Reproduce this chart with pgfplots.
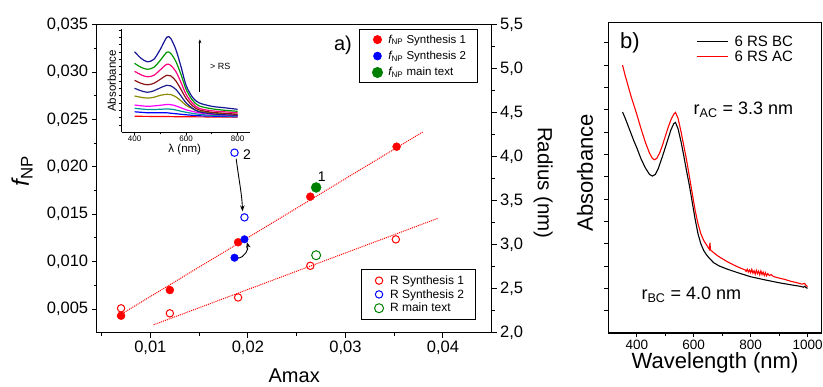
\documentclass[border=0pt]{standalone}
\usepackage{fontspec}
\setmainfont{Liberation Sans}
\usepackage{pgfplots}
\pgfplotsset{compat=1.18}
\usetikzlibrary{arrows.meta}
\definecolor{cnavy}{RGB}{20,20,150}
\definecolor{cgreen}{RGB}{0,150,0}
\definecolor{cpink}{RGB}{255,0,128}
\definecolor{cbrown}{RGB}{140,20,20}
\definecolor{cnavyb}{RGB}{30,30,140}
\definecolor{colive}{RGB}{140,140,0}
\definecolor{cmag}{RGB}{255,0,255}
\definecolor{cteal}{RGB}{0,150,150}
\definecolor{cblue}{RGB}{0,0,255}
\definecolor{cred}{RGB}{255,0,0}
\definecolor{dgreen}{RGB}{0,128,0}
\pgfplotsset{every axis/.append style={scale only axis,
  axis line style={line width=1.1pt},
  every tick/.style={black,line width=0.9pt},
  tick align=outside, major tick length=5pt, minor tick length=3pt,
  /pgf/number format/assume math mode=true},
  markleg/.style={legend image code/.code={\path (0pt,0pt) (17pt,0pt); \draw[mark repeat=2,mark phase=2,##1] plot coordinates {(0pt,0pt) (8.5pt,0pt) (17pt,0pt)};}}}
\begin{document}
\begin{tikzpicture}
\useasboundingbox (0pt,0pt) rectangle (823pt,387pt);
% ---------- panel a, left axis (f_NP) ----------
\begin{axis}[at={(96.7pt,54.3pt)}, anchor=south west, width=395pt, height=308.1pt,
  xmin=0.0045, xmax=0.045, ymin=0.0025, ymax=0.035,
  xtick={0.01,0.02,0.03,0.04}, minor xtick={0.005,0.015,0.025,0.035},
  ytick={0.005,0.01,0.015,0.02,0.025,0.03,0.035},
  minor ytick={0.0075,0.0125,0.0175,0.0225,0.0275,0.0325},
  xtick pos=bottom, ytick pos=left, scaled ticks=false,
  xticklabel style={/pgf/number format/.cd,fixed,fixed zerofill,precision=2,use comma},
  yticklabel style={/pgf/number format/.cd,fixed,fixed zerofill,precision=3,use comma},
  tick label style={font=\fontsize{16.5}{18}\selectfont},
  xlabel={Amax}, ylabel={{\itshape f}\textsubscript{NP}},
  xlabel style={at={(axis description cs:0.5,-0.1405)},anchor=center,font=\fontsize{20}{22}\selectfont},
  ylabel style={at={(axis description cs:-0.189,0.525)},anchor=center,font=\fontsize{24}{26}\selectfont},
  markleg,
  legend style={at={(0.664,0.986)},anchor=north west,draw=black,line width=1pt,
    font=\fontsize{11.5}{13}\selectfont,inner xsep=9pt,inner ysep=2pt,
    nodes={inner ysep=3.3pt}},
  legend cell align=left]
\addplot[cred,densely dotted,line width=1pt,forget plot] coordinates {(0.00659,0.00419) (0.03797,0.02370)};
\addplot[only marks,mark=*,mark size=4pt,cred,mark options={fill=cred,draw=cred}] coordinates {
 (0.0070,0.00429) (0.0120,0.00700) (0.0190,0.01204) (0.0264,0.01685) (0.03525,0.02212)};
\addlegendentry{{\itshape f}\textsubscript{NP} Synthesis 1}
\addplot[only marks,mark=*,mark size=3.8pt,cblue,mark options={fill=cblue,draw=cblue}] coordinates {
 (0.01863,0.01041) (0.01965,0.01235)};
\addlegendentry{{\itshape f}\textsubscript{NP} Synthesis 2}
\addplot[only marks,mark=*,mark size=5pt,dgreen,mark options={fill=dgreen,draw=dgreen}] coordinates {
 (0.0270,0.01782)};
\addlegendentry{{\itshape f}\textsubscript{NP} main text}
\draw[-{Stealth[length=6pt,width=4.5pt]},line width=0.9pt] (axis cs:0.0188,0.02085) .. controls (axis cs:0.0191,0.0185) and (axis cs:0.0194,0.0170) .. (axis cs:0.01945,0.01530);
\draw[-{Stealth[length=6pt,width=4.5pt]},line width=0.9pt] (axis cs:0.01894,0.01035) to[out=5,in=-75] (axis cs:0.0199,0.01205);
\node[font=\fontsize{14}{16}\selectfont] at (axis cs:0.01990,0.02125) {2};
\node[font=\fontsize{14}{16}\selectfont] at (axis cs:0.02757,0.01896) {1};
\node[font=\fontsize{20}{22}\selectfont] at (axis cs:0.02975,0.03285) {a)};
\end{axis}
% ---------- panel a, right axis (R) ----------
\begin{axis}[at={(96.7pt,54.3pt)}, anchor=south west, width=395pt, height=308.1pt,
  xmin=0.0045, xmax=0.045, ymin=2, ymax=5.5,
  axis x line=none, axis y line*=right,
  ytick={2,2.5,3,3.5,4,4.5,5,5.5}, minor ytick={2.25,2.75,3.25,3.75,4.25,4.75,5.25},
  yticklabel style={/pgf/number format/.cd,fixed,fixed zerofill,precision=1,use comma},
  tick label style={font=\fontsize{16.5}{18}\selectfont},
  ylabel={Radius (nm)},
  ylabel style={at={(axis description cs:1.13,0.486)},anchor=center,rotate=180,font=\fontsize{20.5}{22}\selectfont},
  markleg,
  legend style={at={(0.668,0.206)},anchor=north west,draw=black,line width=1pt,
    font=\fontsize{12}{13}\selectfont,inner xsep=9pt,inner ysep=4pt,
    nodes={inner ysep=1.8pt}},
  legend cell align=left]
\addplot[cred,densely dotted,line width=1pt,forget plot] coordinates {(0.01034,2.09) (0.0395,3.30)};
\addplot[only marks,mark=o,mark size=3.7pt,cred,line width=1pt] coordinates {
 (0.0070,2.277) (0.0120,2.22) (0.0190,2.40) (0.0264,2.76) (0.03517,3.06)};
\addlegendentry{R Synthesis 1}
\addplot[only marks,mark=o,mark size=3.7pt,cblue,line width=1pt] coordinates {
 (0.01863,4.045) (0.01965,3.31)};
\addlegendentry{R Synthesis 2}
\addplot[only marks,mark=o,mark size=4.5pt,dgreen,line width=1pt] coordinates {
 (0.0270,2.88)};
\addlegendentry{R main text}
\end{axis}
% ---------- inset ----------
\begin{axis}[at={(121.7pt,254.7pt)}, anchor=south west, width=128.75pt, height=103pt,
  xmin=350, xmax=850, ymin=0, ymax=103,
  axis x line*=bottom, axis y line*=left,
  axis line style={line width=0.9pt}, every tick/.style={black,line width=0.7pt},
  xtick={400,600,800}, minor xtick={500,700},
  ytick={7.3,14.6,21.9,29.2,36.5,43.8,51.1,58.4,65.7,73,80.3,87.6,94.9,102.2}, yticklabels={},
  major tick length=3pt, minor tick length=2pt,
  tick label style={font=\fontsize{8}{9}\selectfont},
  xticklabel style={inner sep=0.8pt},
  xlabel={λ (nm)}, ylabel={Absorbance},
  xlabel style={at={(axis description cs:0.49,-0.17)},anchor=center,font=\fontsize{11.5}{12}\selectfont},
  ylabel style={at={(axis description cs:-0.078,0.498)},anchor=center,font=\fontsize{11.5}{12}\selectfont},
  every axis plot/.append style={line width=1.2pt}]
\addplot[cred] coordinates {(400,16) (500,15.8) (600,15.5) (800,15.2)};
\addplot[cblue] coordinates {(400,20.5) (450,19.5) (525,19.5) (600,17.5) (650,16.5) (800,15.5)};
\addplot[cteal,smooth] coordinates {(400,24) (450,22.8) (500,23) (525,23.3) (550,22.8) (600,20) (650,18) (700,17) (800,16)};
\addplot[cmag,smooth] coordinates {(400,27.3) (450,26) (500,27) (525,27.8) (550,27.2) (580,24.5) (600,22.5) (650,19.5) (700,18) (800,16.5)};
\addplot[colive,smooth] coordinates {(400,36.3) (425,35) (450,34.2) (475,35) (500,37) (525,38) (540,37.8) (560,35.5) (580,31.5) (600,27) (625,23.5) (650,21) (700,19.5) (750,18.5) (800,18)};
\addplot[cnavyb,smooth] coordinates {(400,44) (425,41.5) (450,40) (475,41.5) (500,44.5) (525,47) (540,46.5) (560,43) (580,36.5) (600,29.5) (625,24) (650,20.5) (700,18.5) (750,17.5) (800,17)};
\addplot[cbrown,smooth] coordinates {(400,52) (425,49) (450,47.5) (475,49) (500,53) (525,57) (540,56.5) (560,51.5) (580,43) (600,34) (625,26.5) (650,22.5) (700,20) (750,19) (800,18)};
\addplot[cpink,smooth] coordinates {(400,61) (425,57.5) (450,55.5) (475,57) (500,62.5) (525,68) (540,67) (560,61) (580,50) (600,38) (625,29) (650,24) (700,21.5) (750,20.5) (800,19.5)};
\addplot[cgreen,smooth] coordinates {(400,69) (425,65) (450,63) (475,65) (500,72) (525,80) (540,79) (560,71) (580,58) (600,43) (625,32) (650,26.5) (700,23.5) (750,22) (800,21)};
\addplot[cnavy,smooth] coordinates {(400,80.6) (425,74) (450,70.5) (475,73) (500,83) (525,95) (540,94) (560,83) (580,66) (600,47) (625,35) (650,29.5) (700,26) (750,24.5) (800,23)};
\draw[-{Stealth[length=4pt,width=3pt]},line width=0.9pt] (axis cs:653.6,40.6) -- (axis cs:653.6,93);
\node[anchor=west,font=\fontsize{9}{10}\selectfont] at (rel axis cs:0.66,0.637) {> RS};
\end{axis}
% ---------- panel b ----------
\begin{axis}[at={(608.3pt,54pt)}, anchor=south west, width=213.5pt, height=310.3pt,
  xmin=300, xmax=1050, ymin=0, ymax=1.39,
  xtick={400,600,800,1000}, minor xtick={500,700,900},
  ytick={0.1,0.2,0.3,0.4,0.5,0.6,0.7,0.8,0.9,1.0,1.1,1.2,1.3}, yticklabels={},
  xticklabel style={/pgf/number format/1000 sep={}},
  xtick pos=bottom, ytick pos=left, major tick length=4pt, minor tick length=3pt,
  tick label style={font=\fontsize{13.5}{15}\selectfont},
  xlabel={Wavelength (nm)}, ylabel={Absorbance},
  xlabel style={at={(axis description cs:0.5,-0.0967)},anchor=center,font=\fontsize{22}{24}\selectfont},
  ylabel style={at={(axis description cs:-0.109,0.516)},anchor=center,font=\fontsize{22}{24}\selectfont},
  legend style={at={(0.4103,0.963)},anchor=north west,draw=none,fill=none,
    font=\fontsize{15}{16}\selectfont,inner sep=0pt,nodes={inner ysep=1.5pt,inner xsep=5.8pt}},
  legend cell align=left,
  legend image code/.code={\draw[#1] (0pt,0pt) -- (31.6pt,0pt);}]
\addplot[black,line width=1.1pt] coordinates {
 (350,0.99) (360,0.96) (375,0.91) (390,0.86) (400,0.83) (415,0.78) (430,0.74) (445,0.71) (455,0.703) (465,0.71) (475,0.735) (490,0.79) (505,0.85) (520,0.91) (530,0.938) (536,0.943) (545,0.915) (555,0.86) (565,0.795) (575,0.725) (585,0.66) (595,0.585) (605,0.51) (615,0.445) (625,0.40) (635,0.37) (645,0.35) (655,0.335) (670,0.315) (690,0.30) (720,0.285) (760,0.268) (800,0.252) (850,0.238) (900,0.225) (950,0.214) (975,0.209) (985,0.205) (990,0.209) (995,0.203) (1000,0.200)};
\addlegendentry{6 RS BC}
\addplot[cred,line width=1.1pt] coordinates {
 (350,1.20) (360,1.15) (370,1.105) (380,1.06) (390,1.02) (400,0.98) (415,0.915) (430,0.855) (445,0.805) (455,0.782) (462,0.776) (470,0.782) (480,0.805) (490,0.84) (500,0.88) (510,0.92) (520,0.955) (530,0.98) (536,0.988) (545,0.962) (555,0.905) (565,0.84) (575,0.775) (585,0.70) (595,0.625) (605,0.55) (615,0.49) (625,0.445) (635,0.415) (645,0.395) (655,0.375) (657,0.405) (659,0.372) (670,0.36) (685,0.345) (700,0.333) (720,0.318) (740,0.305) (760,0.293) (780,0.283) (784,0.276) (788,0.286) (792,0.273) (796,0.282) (800,0.270) (804,0.285) (808,0.268) (812,0.279) (816,0.264) (820,0.281) (824,0.266) (828,0.277) (832,0.261) (836,0.278) (840,0.262) (844,0.273) (848,0.258) (852,0.270) (856,0.256) (860,0.266) (866,0.257) (872,0.262) (880,0.253) (900,0.246) (920,0.240) (940,0.232) (960,0.226) (980,0.219) (990,0.222) (995,0.212) (1000,0.208)};
\addlegendentry{6 RS AC}
\node[font=\fontsize{22}{24}\selectfont] at (rel axis cs:0.1016,0.9346) {b)};
\node[anchor=west,font=\fontsize{18}{20}\selectfont] at (rel axis cs:0.383,0.7187) {r\textsubscript{AC} = 3.3 nm};
\node[anchor=west,font=\fontsize{18}{20}\selectfont] at (rel axis cs:0.139,0.1225) {r\textsubscript{BC} = 4.0 nm};
\end{axis}
\end{tikzpicture}
\end{document}
